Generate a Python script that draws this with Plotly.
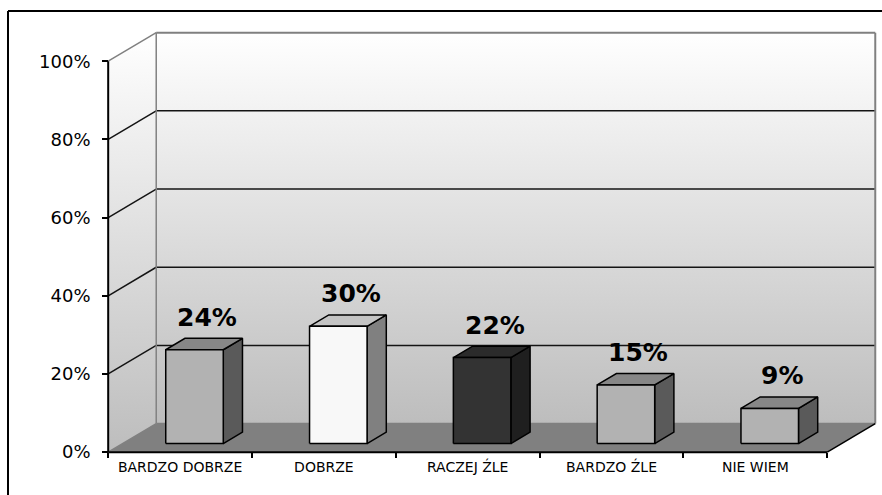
import plotly.graph_objects as go

# ---- data -------------------------------------------------------------
categories = ["BARDZO DOBRZE", "DOBRZE", "RACZEJ ŹLE", "BARDZO ŹLE", "NIE WIEM"]
values = [24, 30, 22, 15, 9]
value_labels = ["24%", "30%", "22%", "15%", "9%"]
y_ticks = [0, 20, 40, 60, 80, 100]
y_tick_labels = ["0%", "20%", "40%", "60%", "80%", "100%"]
bar_shades = ["mid", "light", "dark", "mid", "mid"]

# ---- styling ----------------------------------------------------------
FONT = "DejaVu Sans, Arial, sans-serif"
SHADES = {  # front, top, side
    "mid": ("#b2b2b2", "#878787", "#5a5a5a"),
    "light": ("#f8f8f8", "#c4c4c4", "#808080"),
    "dark": ("#333333", "#2b2b2b", "#1f1f1f"),
}
DX, DY = 0.334, 7.3          # depth offset of the back wall (x units, % units)
F0, F1 = 0.30, 0.70          # front/back depth of the bars as a share of DX/DY
HALF_W = 0.2                 # half width of a bar's front face
XMIN, XMAX = -0.05, 5.36
YMIN, YMAX = -1.5, 108.5
N = len(categories)

fig = go.Figure()


def poly(xs, ys, fill=None, line_color=None, line_width=0, **kw):
    xs = list(xs) + [xs[0]]
    ys = list(ys) + [ys[0]]
    fig.add_trace(go.Scatter(
        x=xs, y=ys, mode="lines",
        fill="toself" if (fill or "fillgradient" in kw) else "none",
        fillcolor=fill,
        line=dict(color=line_color or "rgba(0,0,0,0)", width=line_width),
        hoverinfo="skip", showlegend=False, **kw))


def seg(x0, y0, x1, y1, color, width):
    fig.add_trace(go.Scatter(
        x=[x0, x1], y=[y0, y1], mode="lines",
        line=dict(color=color, width=width),
        hoverinfo="skip", showlegend=False))


wall_grad = dict(type="vertical", colorscale=[[0, "#bdbdbd"], [1, "#ffffff"]])

# side wall
poly([0, DX, DX, 0], [0, DY, 100 + DY, 100], fillgradient=wall_grad)
# back wall
poly([DX, N + DX, N + DX, DX], [DY, DY, 100 + DY, 100 + DY], fillgradient=wall_grad)
# floor
poly([0, N, N + DX, DX], [0, 0, DY, DY], fill="#808080")

# gridlines on the walls
for v in y_ticks[1:-1]:
    seg(0, v, DX, v + DY, "#141414", 1.5)
    seg(DX, v + DY, N + DX, v + DY, "#141414", 1.5)

# wall edges
EDGE = "#808080"
seg(0, 100, DX, 100 + DY, EDGE, 1.5)
seg(DX, 100 + DY, N + DX, 100 + DY, EDGE, 2)
seg(N + DX, 100 + DY, N + DX, DY, EDGE, 2)
seg(DX, DY, DX, 100 + DY, EDGE, 1.5)
seg(DX, DY, N + DX, DY, EDGE, 1.5)
seg(0, 0, DX, DY, EDGE, 1.5)
seg(N, 0, N + DX, DY, "#000000", 1.5)

# front axis lines
seg(0, 0, N, 0, "#000000", 2)
seg(0, 0, 0, 100, "#000000", 2)

# 3-D bars
for i, (v, shade) in enumerate(zip(values, bar_shades)):
    front, top, side = SHADES[shade]
    c = i + 0.5
    x0 = c - HALF_W + F0 * DX
    x1 = c + HALF_W + F0 * DX
    b0 = F0 * DY
    ddx = (F1 - F0) * DX
    ddy = (F1 - F0) * DY
    # side face
    poly([x1, x1 + ddx, x1 + ddx, x1], [b0, b0 + ddy, b0 + v + ddy, b0 + v],
         fill=side, line_color="#000000", line_width=1.5)
    # top face
    poly([x0, x1, x1 + ddx, x0 + ddx], [b0 + v, b0 + v, b0 + v + ddy, b0 + v + ddy],
         fill=top, line_color="#000000", line_width=1.5)
    # front face
    poly([x0, x1, x1, x0], [b0, b0, b0 + v, b0 + v],
         fill=front, line_color="#000000", line_width=1.5)
    fig.add_annotation(
        x=c + 0.5 * DX + 0.02, y=b0 + v, text=f"<b>{value_labels[i]}</b>",
        showarrow=False, yanchor="bottom", yshift=16,
        font=dict(family=FONT, size=25, color="#000000"))

# outer frame of the chart area (open to the right and bottom)
L, R, T, B = 101, 3, 28, 37
W, H = 882, 495
pw, ph = W - L - R, H - T - B


def px_x(p):
    return (p - L) / pw


def px_y(p):
    return (H - B - p) / ph


fig.add_shape(type="line", xref="paper", yref="paper",
              x0=px_x(8), y0=px_y(11), x1=px_x(890), y1=px_y(11),
              line=dict(color="#000000", width=2))
fig.add_shape(type="line", xref="paper", yref="paper",
              x0=px_x(8), y0=px_y(11), x1=px_x(8), y1=px_y(500),
              line=dict(color="#000000", width=2))

fig.update_layout(
    width=W, height=H,
    margin=dict(l=L, r=R, t=T, b=B),
    paper_bgcolor="#ffffff", plot_bgcolor="rgba(0,0,0,0)",
    showlegend=False,
    xaxis=dict(
        range=[XMIN, XMAX], anchor="free", position=(0 - YMIN) / (YMAX - YMIN),
        tickvals=[i + 0.5 for i in range(N)], ticktext=categories,
        ticks="", showgrid=False, zeroline=False, showline=False,
        ticklabelstandoff=5,
        tickfont=dict(family=FONT, size=14, color="#000000"),
        minor=dict(tickvals=list(range(N + 1)), ticks="outside", ticklen=5,
                   tickwidth=1.5, tickcolor="#000000", showgrid=False),
        fixedrange=True,
    ),
    yaxis=dict(
        range=[YMIN, YMAX], anchor="free", position=(0 - XMIN) / (XMAX - XMIN),
        tickvals=y_ticks, ticktext=y_tick_labels,
        ticks="outside", ticklen=6, tickwidth=1.5, tickcolor="#000000",
        showgrid=False, zeroline=False, showline=False,
        ticklabelstandoff=8,
        tickfont=dict(family=FONT, size=18, color="#000000"),
        fixedrange=True,
    ),
)

fig.write_html("out.html")
